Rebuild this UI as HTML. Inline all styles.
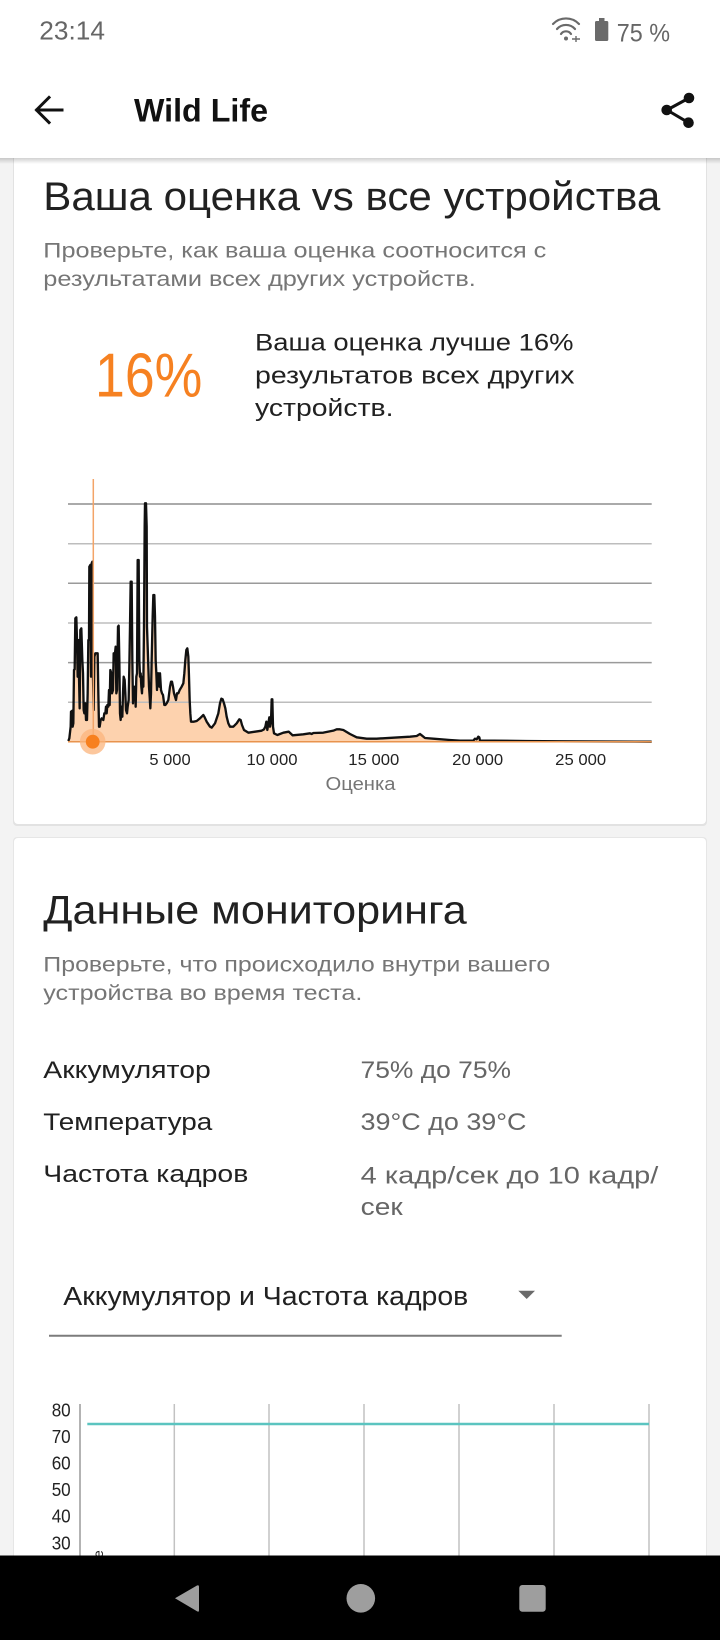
<!DOCTYPE html>
<html>
<head>
<meta charset="utf-8">
<style>
html,body{margin:0;padding:0;background:#f3f3f3;}
svg{display:block;}
text{font-family:"Liberation Sans","Noto Sans CJK SC",sans-serif;}
</style>
</head>
<body>
<svg width="720" height="1640" viewBox="0 0 720 1640" xmlns="http://www.w3.org/2000/svg">
  <defs>
    <linearGradient id="abShadow" x1="0" y1="0" x2="0" y2="1">
      <stop offset="0" stop-color="#000" stop-opacity="0.18"/>
      <stop offset="1" stop-color="#000" stop-opacity="0"/>
    </linearGradient>
    <clipPath id="leftClip">
      <rect x="0" y="0" width="160" height="900"/>
    </clipPath>
  </defs>

  <rect x="0" y="0" width="720" height="1640" fill="#f3f3f3"/>

  <!-- Card 1 -->
  <rect x="13" y="140" width="694" height="686" rx="4" fill="#e2e2e2"/>
  <rect x="14" y="140" width="692" height="684" rx="4" fill="#ffffff"/>
  <!-- Card 2 -->
  <rect x="13" y="837" width="694" height="760" rx="4" fill="#e6e6e6"/>
  <rect x="14" y="838" width="692" height="760" rx="4" fill="#ffffff"/>

  <!-- App bar -->
  <rect x="0" y="0" width="720" height="158" fill="#ffffff"/>
  <rect x="0" y="158" width="720" height="6" fill="url(#abShadow)"/>

  <!-- Status bar -->
  <text x="39.3" y="39.3" font-size="26" fill="#666" textLength="65.7" lengthAdjust="spacingAndGlyphs">23:14</text>
  <g fill="none" stroke="#6a6a6a" stroke-width="2.2" stroke-linecap="round">
    <path d="M553,24 A18,18 0 0 1 579,24"/>
    <path d="M557,29 A12,12 0 0 1 575,29"/>
    <path d="M561,34 A6,6 0 0 1 571,34"/>
  </g>
  <circle cx="566" cy="38.5" r="2" fill="#6a6a6a"/>
  <path d="M572,39 L580,39 M576,36 L576,42" stroke="#6a6a6a" stroke-width="1.4"/>
  <rect x="599" y="18" width="5.5" height="4" fill="#6a6a6a"/>
  <rect x="595" y="21" width="13.3" height="20" rx="1.5" fill="#6a6a6a"/>
  <text x="616.7" y="41.7" font-size="25" fill="#666" textLength="53.3" lengthAdjust="spacingAndGlyphs">75 %</text>

  <!-- back arrow -->
  <g stroke="#111" stroke-width="3" fill="none" stroke-linecap="square">
    <path d="M37,110 L62,110"/>
    <path d="M49,97.5 L36.5,110 L49,122.5"/>
  </g>
  <text x="134" y="121.7" font-size="32" font-weight="bold" fill="#111" textLength="134" lengthAdjust="spacingAndGlyphs">Wild Life</text>
  <g stroke="#111" stroke-width="3">
    <line x1="689" y1="98" x2="667" y2="110"/>
    <line x1="667" y1="110" x2="688.5" y2="122.7"/>
  </g>
  <circle cx="689" cy="98" r="5.3" fill="#111"/>
  <circle cx="666.7" cy="110" r="5.3" fill="#111"/>
  <circle cx="688.5" cy="122.7" r="5.3" fill="#111"/>

  <!-- Card 1 content -->
  <text x="43.3" y="210" font-size="40" fill="#212121" textLength="617" lengthAdjust="spacingAndGlyphs">Ваша оценка vs все устройства</text>
  <text x="43.3" y="257.7" font-size="21" fill="#767676" textLength="503" lengthAdjust="spacingAndGlyphs">Проверьте, как ваша оценка соотносится с</text>
  <text x="43.3" y="286" font-size="21" fill="#767676" textLength="432.5" lengthAdjust="spacingAndGlyphs">результатами всех других устройств.</text>

  <text x="95" y="396.7" font-size="62" fill="#f68121" textLength="107.3" lengthAdjust="spacingAndGlyphs">16%</text>
  <text x="255" y="350.7" font-size="24.5" fill="#212121" textLength="318.5" lengthAdjust="spacingAndGlyphs">Ваша оценка лучше 16%</text>
  <text x="255" y="383.3" font-size="24.5" fill="#212121" textLength="319.5" lengthAdjust="spacingAndGlyphs">результатов всех других</text>
  <text x="255" y="416" font-size="24.5" fill="#212121" textLength="138.5" lengthAdjust="spacingAndGlyphs">устройств.</text>

  <!-- Histogram chart -->
  <g transform="translate(40,460) scale(0.333333)">
    <path id="histFill" fill="#fdd2ae" stroke="none" d="M85,845 L85,843 L88,835 L92,800 L93,755 L97,752 L98,800 L100,790 L102,630 L104,628 L106,475 L109,472 L111,540 L113,650 L115,540 L117,650 L119,745 L121,510 L124,505 L127,600 L129,640 L131,750 L133,760 L136,730 L138,780 L141,780 L143,700 L145,540 L147,540 L148,320 L151,315 L153,650 L155,310 L157,305 L159,650 L161,750 L163,590 L166,580 L170,580 L173,580 L175,700 L177,800 L179,800 L182,780 L185,775 L190,780 L193,760 L196,760 L198,740 L200,760 L202,735 L205,740 L207,690 L209,735 L211,630 L214,640 L216,700 L219,690 L221,580 L224,590 L227,560 L229,700 L231,690 L234,500 L236,497 L238,600 L240,760 L242,780 L244,740 L247,770 L249,700 L251,650 L254,660 L256,700 L258,750 L261,760 L263,740 L266,720 L268,620 L270,500 L272,365 L275,365 L277,600 L279,730 L281,680 L283,700 L285,680 L287,740 L289,650 L291,640 L293,300 L296,300 L298,600 L300,650 L302,640 L304,680 L306,700 L308,650 L310,680 L312,500 L314,200 L315,130 L318,130 L320,200 L321,500 L323,560 L325,620 L327,680 L329,710 L331,745 L333,700 L335,600 L338,470 L340,405 L343,405 L345,470 L347,600 L349,640 L351,690 L353,640 L355,640 L358,680 L360,640 L363,690 L366,700 L369,705 L373,735 L376,735 L380,730 L385,720 L390,680 L393,665 L396,665 L399,680 L402,700 L405,710 L408,720 L411,700 L415,700 L419,690 L425,680 L430,670 L433,640 L436,600 L439,570 L442,565 L445,590 L447,650 L449,720 L451,760 L453,785 L462,785 L470,783 L480,775 L490,765 L493,770 L500,785 L510,800 L515,803 L525,790 L535,760 L540,730 L544,716 L548,718 L552,730 L556,745 L560,770 L565,790 L570,800 L580,800 L590,790 L598,778 L602,780 L606,795 L612,810 L625,818 L645,815 L665,812 L672,808 L676,800 L679,785 L682,810 L685,790 L688,772 L690,800 L693,785 L695,718 L697,718 L699,800 L702,820 L712,825 L730,818 L746,815 L758,826 L790,823 L810,820 L815,822 L820,819 L850,818 L880,812 L890,808 L900,808 L910,810 L930,822 L950,832 L980,836 L1010,836 L1060,833 L1110,830 L1130,828 L1140,822 L1145,826 L1155,834 L1180,836 L1230,840 L1260,842 L1300,842 L1305,836 L1310,838 L1315,830 L1318,832 L1320,842 L1360,842 L1460,843 L1560,844 L1835,845 Z"/>
    <use href="#histFill" fill="#f9a45a" clip-path="url(#leftClip)"/>
  </g>

  <g stroke-width="1.5">
    <line x1="68" y1="504" x2="651.7" y2="504" stroke="#8e8e8e"/>
    <line x1="68" y1="543.7" x2="651.7" y2="543.7" stroke="#bdbdbd"/>
    <line x1="68" y1="583.3" x2="651.7" y2="583.3" stroke="#9a9a9a"/>
    <line x1="68" y1="623" x2="651.7" y2="623" stroke="#bdbdbd"/>
    <line x1="68" y1="662.6" x2="651.7" y2="662.6" stroke="#9a9a9a"/>
    <line x1="68" y1="702.2" x2="651.7" y2="702.2" stroke="#bdbdbd"/>
  </g>

  <g transform="translate(40,460) scale(0.333333)">
    <path fill="none" stroke="#111" stroke-width="7" stroke-linejoin="round" d="M85,843 L88,835 L92,800 L93,755 L97,752 L98,800 L100,790 L102,630 L104,628 L106,475 L109,472 L111,540 L113,650 L115,540 L117,650 L119,745 L121,510 L124,505 L127,600 L129,640 L131,750 L133,760 L136,730 L138,780 L141,780 L143,700 L145,540 L147,540 L148,320 L151,315 L153,650 L155,310 L157,305 L159,650 L161,750 L163,590 L166,580 L170,580 L173,580 L175,700 L177,800 L179,800 L182,780 L185,775 L190,780 L193,760 L196,760 L198,740 L200,760 L202,735 L205,740 L207,690 L209,735 L211,630 L214,640 L216,700 L219,690 L221,580 L224,590 L227,560 L229,700 L231,690 L234,500 L236,497 L238,600 L240,760 L242,780 L244,740 L247,770 L249,700 L251,650 L254,660 L256,700 L258,750 L261,760 L263,740 L266,720 L268,620 L270,500 L272,365 L275,365 L277,600 L279,730 L281,680 L283,700 L285,680 L287,740 L289,650 L291,640 L293,300 L296,300 L298,600 L300,650 L302,640 L304,680 L306,700 L308,650 L310,680 L312,500 L314,200 L315,130 L318,130 L320,200 L321,500 L323,560 L325,620 L327,680 L329,710 L331,745 L333,700 L335,600 L338,470 L340,405 L343,405 L345,470 L347,600 L349,640 L351,690 L353,640 L355,640 L358,680 L360,640 L363,690 L366,700 L369,705 L373,735 L376,735 L380,730 L385,720 L390,680 L393,665 L396,665 L399,680 L402,700 L405,710 L408,720 L411,700 L415,700 L419,690 L425,680 L430,670 L433,640 L436,600 L439,570 L442,565 L445,590 L447,650 L449,720 L451,760 L453,785 L462,785 L470,783 L480,775 L490,765 L493,770 L500,785 L510,800 L515,803 L525,790 L535,760 L540,730 L544,716 L548,718 L552,730 L556,745 L560,770 L565,790 L570,800 L580,800 L590,790 L598,778 L602,780 L606,795 L612,810 L625,818 L645,815 L665,812 L672,808 L676,800 L679,785 L682,810 L685,790 L688,772 L690,800 L693,785 L695,718 L697,718 L699,800 L702,820 L712,825 L730,818 L746,815 L758,826 L790,823 L810,820 L815,822 L820,819 L850,818 L880,812 L890,808 L900,808 L910,810 L930,822 L950,832 L980,836 L1010,836 L1060,833 L1110,830 L1130,828 L1140,822 L1145,826 L1155,834 L1180,836 L1230,840 L1260,842 L1300,842 L1305,836 L1310,838 L1315,830 L1318,832 L1320,842 L1360,842 L1460,843 L1560,844 L1835,845"/>
  </g>

  <line x1="68" y1="741.7" x2="651.7" y2="741.7" stroke="#e8934d" stroke-width="1.5"/>
  <line x1="93.3" y1="479" x2="93.3" y2="741.7" stroke="#f3a468" stroke-width="1.5"/>
  <circle cx="92.7" cy="741.7" r="12.8" fill="#fbb47c" fill-opacity="0.75"/>
  <circle cx="92.7" cy="741.7" r="6.9" fill="#f7801f"/>

  <g font-size="16" fill="#222" text-anchor="middle">
    <text x="170" y="765" textLength="41.3" lengthAdjust="spacingAndGlyphs">5 000</text>
    <text x="272" y="765" textLength="51" lengthAdjust="spacingAndGlyphs">10 000</text>
    <text x="373.8" y="765" textLength="51" lengthAdjust="spacingAndGlyphs">15 000</text>
    <text x="477.7" y="765" textLength="51" lengthAdjust="spacingAndGlyphs">20 000</text>
    <text x="580.7" y="765" textLength="51" lengthAdjust="spacingAndGlyphs">25 000</text>
  </g>
  <text x="360.5" y="790" font-size="18" fill="#757575" text-anchor="middle" textLength="70" lengthAdjust="spacingAndGlyphs">Оценка</text>

  <!-- Card 2 content -->
  <text x="43.3" y="923.3" font-size="40" fill="#212121" textLength="423.5" lengthAdjust="spacingAndGlyphs">Данные мониторинга</text>
  <text x="43.3" y="971.7" font-size="21" fill="#767676" textLength="507" lengthAdjust="spacingAndGlyphs">Проверьте, что происходило внутри вашего</text>
  <text x="43.3" y="1000" font-size="21" fill="#767676" textLength="319" lengthAdjust="spacingAndGlyphs">устройства во время теста.</text>

  <g font-size="24.5" fill="#212121">
    <text x="43.3" y="1078" textLength="167.5" lengthAdjust="spacingAndGlyphs">Аккумулятор</text>
    <text x="43.3" y="1130" textLength="169" lengthAdjust="spacingAndGlyphs">Температура</text>
    <text x="43.3" y="1182" textLength="205" lengthAdjust="spacingAndGlyphs">Частота кадров</text>
  </g>
  <g font-size="24.5" fill="#666">
    <text x="360.5" y="1078" textLength="150.5" lengthAdjust="spacingAndGlyphs">75% до 75%</text>
    <text x="360.5" y="1130" textLength="166" lengthAdjust="spacingAndGlyphs">39°C до 39°C</text>
    <text x="360.7" y="1183.3" textLength="297.6" lengthAdjust="spacingAndGlyphs">4 кадр/сек до 10 кадр/</text>
    <text x="360.7" y="1215" textLength="42" lengthAdjust="spacingAndGlyphs">сек</text>
  </g>

  <text x="63.3" y="1305" font-size="25.5" fill="#212121" textLength="405" lengthAdjust="spacingAndGlyphs">Аккумулятор и Частота кадров</text>
  <path d="M518.3,1290.7 L535,1290.7 L526.7,1299 Z" fill="#6a6a6a"/>
  <line x1="49" y1="1335.7" x2="561.7" y2="1335.7" stroke="#7c7c7c" stroke-width="2"/>

  <g font-size="18" fill="#222" text-anchor="end">
    <text x="70.7" y="1416.5" textLength="19" lengthAdjust="spacingAndGlyphs">80</text>
    <text x="70.7" y="1443.2" textLength="19" lengthAdjust="spacingAndGlyphs">70</text>
    <text x="70.7" y="1469.5" textLength="19" lengthAdjust="spacingAndGlyphs">60</text>
    <text x="70.7" y="1496" textLength="19" lengthAdjust="spacingAndGlyphs">50</text>
    <text x="70.7" y="1522.5" textLength="19" lengthAdjust="spacingAndGlyphs">40</text>
    <text x="70.7" y="1549.5" textLength="19" lengthAdjust="spacingAndGlyphs">30</text>
  </g>
  <line x1="80" y1="1404" x2="80" y2="1560" stroke="#9a9a9a" stroke-width="1.5"/>
  <g stroke="#c2c2c2" stroke-width="1.5">
    <line x1="174.3" y1="1404" x2="174.3" y2="1560"/>
    <line x1="269" y1="1404" x2="269" y2="1560"/>
    <line x1="364" y1="1404" x2="364" y2="1560"/>
    <line x1="459" y1="1404" x2="459" y2="1560"/>
    <line x1="554" y1="1404" x2="554" y2="1560"/>
    <line x1="649" y1="1404" x2="649" y2="1560"/>
  </g>
  <line x1="87.3" y1="1424" x2="649" y2="1424" stroke="#5bc4c0" stroke-width="2.5"/>
  <text x="0" y="0" font-size="14" fill="#222" transform="translate(103,1558) rotate(-90)">е</text>

  <!-- nav bar -->
  <rect x="0" y="1555.5" width="720" height="84.5" fill="#000"/>
  <path d="M175,1598.3 L197,1585.5 Q199,1584.5 199,1587 L199,1610 Q199,1612.5 197,1611.3 Z" fill="#9e9e9e"/>
  <circle cx="360.8" cy="1598.3" r="14.3" fill="#9e9e9e"/>
  <rect x="519.3" y="1585" width="26.4" height="26.7" rx="3" fill="#9e9e9e"/>
</svg>
</body>
</html>
